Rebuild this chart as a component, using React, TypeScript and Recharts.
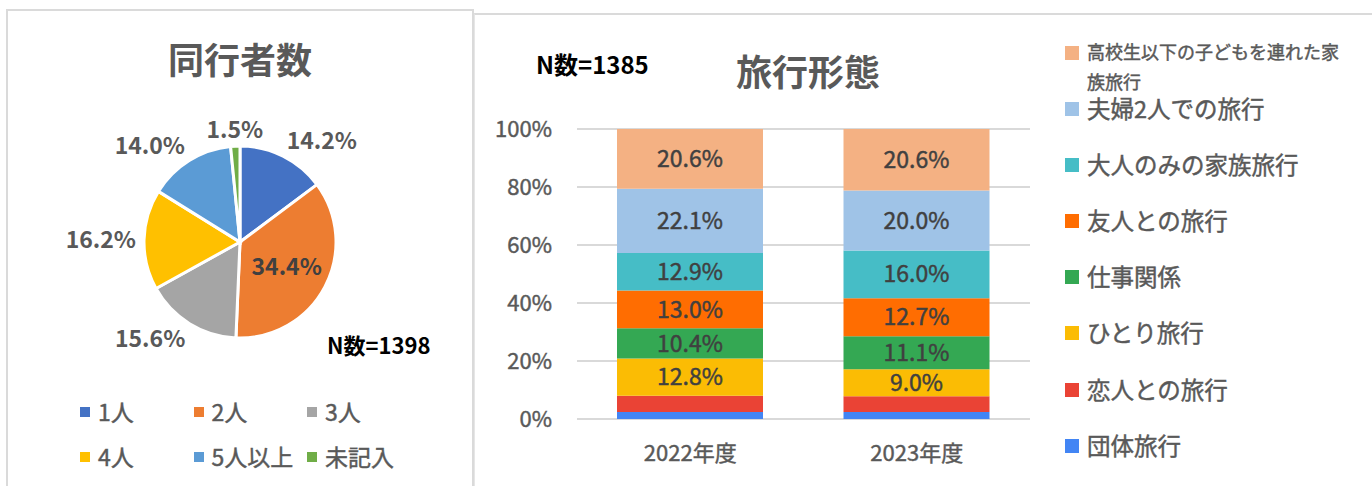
import { PieChart, Pie, Cell, Legend, BarChart, Bar, XAxis, YAxis, CartesianGrid, LabelList } from "recharts";

const FONT = '"Noto Sans CJK JP", "Noto Sans", sans-serif';
const TEXT = "#595959";
const RAD = Math.PI / 180;

// 同行者数
const companionLabels = ["1人", "2人", "3人", "4人", "5人以上", "未記入"];
const companionShares = [14.2, 34.4, 15.6, 16.2, 14.0, 1.5];
const companionColors = ["#4472C4", "#ED7D31", "#A5A5A5", "#FFC000", "#5B9BD5", "#70AD47"];

// 旅行形態 (stack order, bottom -> top)
const years = ["2022年度", "2023年度"];
const styleNames = [
  "団体旅行",
  "恋人との旅行",
  "ひとり旅行",
  "仕事関係",
  "友人との旅行",
  "大人のみの家族旅行",
  "夫婦2人での旅行",
  "高校生以下の子どもを連れた家族旅行",
];
const shares2022 = [2.4, 5.6, 12.8, 10.4, 13.0, 12.9, 22.1, 20.6];
const shares2023 = [2.3, 5.3, 9.0, 11.1, 12.7, 16.0, 20.0, 20.6];
const styleColors = ["#4285F4", "#EA4335", "#FBBC04", "#34A853", "#FF6D01", "#46BDC6", "#9FC3E7", "#F4B183"];
const labelled = [false, false, true, true, true, true, true, true];
const yTicks = [0, 0.2, 0.4, 0.6, 0.8, 1];

const pieData = companionLabels.map((name, i) => ({ name, value: companionShares[i] }));

const barRows = years.map((year, i) => {
  const vals = i === 0 ? shares2022 : shares2023;
  const row: Record<string, string | number> = { year };
  styleNames.forEach((_, k) => (row[`s${k}`] = vals[k]));
  return row;
});

// medium-weight look (the font only ships regular/bold)
const MEDIUM_HTML: React.CSSProperties = { WebkitTextStroke: `0.45px ${TEXT}` };

function pieLabel(p: any) {
  const fs = 23;
  const inside = p.percent > 0.3;
  const cos = Math.cos(-p.midAngle * RAD);
  const sin = Math.sin(-p.midAngle * RAD);
  const r = inside ? p.outerRadius * 0.55 : p.outerRadius + 8;
  const x = p.cx + r * cos;
  const y = p.cy + r * sin;
  const anchor = inside || Math.abs(cos) < 0.2 ? "middle" : cos > 0 ? "start" : "end";
  const dy = inside || Math.abs(sin) < 0.2 ? fs * 0.36 : sin > 0 ? fs * 0.72 : 0;
  return (
    <text
      x={x}
      y={y + dy}
      textAnchor={anchor}
      fill={inside ? "#404040" : TEXT}
      fontSize={fs}
      fontWeight={700}
      fontFamily={FONT}
    >
      {`${Number(p.value).toFixed(1)}%`}
    </text>
  );
}

function PieLegend() {
  return (
    <div style={{ display: "grid", gridTemplateColumns: "repeat(3, 113.5px)", gridAutoRows: "45px", fontFamily: FONT }}>
      {companionLabels.map((name, i) => (
        <div key={name} style={{ display: "flex", alignItems: "center" }}>
          <span style={{ width: 10, height: 10, background: companionColors[i], marginRight: 8 }} />
          <span style={{ fontSize: 23, color: TEXT, lineHeight: 1, ...MEDIUM_HTML }}>{name}</span>
        </div>
      ))}
    </div>
  );
}

function StyleLegend() {
  const order = styleNames.map((_, k) => k).reverse();
  return (
    <div style={{ fontFamily: FONT }}>
      {order.map((k, i) => {
        const first = i === 0;
        const lh = first ? 30 : 22;
        return (
          <div key={k} style={{ position: "relative", height: 56.1 }}>
            <span style={{ position: "absolute", left: 0, top: 21, width: 14, height: 14, background: styleColors[k] }} />
            <span
              style={{
                position: "absolute",
                left: 22,
                top: (first ? 26 : 27) - lh / 2,
                width: first ? 262 : 300,
                fontSize: first ? 18 : 23.5,
                lineHeight: `${lh}px`,
                color: TEXT,
                textAlign: "left",
                ...MEDIUM_HTML,
              }}
            >
              {styleNames[k]}
            </span>
          </div>
        );
      })}
    </div>
  );
}

const abs = (left: number, top: number, extra: React.CSSProperties = {}): React.CSSProperties => ({
  position: "absolute",
  left,
  top,
  ...extra,
});

export default function App() {
  const tick = { fill: TEXT, fontSize: 22, fontFamily: FONT, stroke: TEXT, strokeWidth: 0.45 };
  return (
    <div style={abs(0, 0, { width: 1372, height: 486, overflow: "hidden", background: "#fff", fontFamily: FONT })}>
      {/* panel frames */}
      <div style={abs(6, 9, { width: 464, height: 490, border: "2px solid #dadada", borderBottom: "none" })} />
      <div style={abs(474, 13, { width: 900, height: 490, borderTop: "2px solid #dadada", borderLeft: "1px solid #e6e6e6" })} />

      {/* 同行者数 */}
      <div style={abs(0, 0)}>
        <PieChart width={480} height={486} margin={{ top: 0, right: 0, bottom: 0, left: 0 }}>
          <Pie
            data={pieData}
            dataKey="value"
            nameKey="name"
            cx={240}
            cy={242}
            outerRadius={96}
            startAngle={90}
            endAngle={-270}
            stroke="#fff"
            strokeWidth={3}
            label={pieLabel}
            labelLine={false}
            isAnimationActive={false}
          >
            {pieData.map((d, i) => (
              <Cell key={d.name} fill={companionColors[i]} />
            ))}
          </Pie>
          <Legend
            layout="horizontal"
            verticalAlign="middle"
            content={<PieLegend />}
            wrapperStyle={{ position: "absolute", left: 80, top: 389, width: 345 }}
          />
        </PieChart>
      </div>
      <div style={abs(0, 40, { width: 480, textAlign: "center", fontSize: 36, lineHeight: "36px", fontWeight: 700, color: TEXT })}>
        同行者数
      </div>
      <div style={abs(327, 333, { fontSize: 22, lineHeight: "22px", fontWeight: 700, color: "#000" })}>N数=1398</div>

      {/* 旅行形態 */}
      <div style={abs(480, 0)}>
        <BarChart
          width={892}
          height={486}
          data={barRows}
          stackOffset="expand"
          barSize={146}
          margin={{ top: 129, right: 342, bottom: 30, left: 0 }}
        >
          <CartesianGrid vertical={false} stroke="#d9d9d9" strokeWidth={2} />
          <XAxis
            dataKey="year"
            axisLine={false}
            tickLine={false}
            tickSize={0}
            tickMargin={26}
            height={37}
            tick={tick}
          />
          <YAxis
            type="number"
            domain={[0, 1]}
            ticks={yTicks}
            tickFormatter={(v: number) => `${Math.round(v * 100)}%`}
            axisLine={false}
            tickLine={false}
            tickSize={0}
            tickMargin={25}
            width={97}
            tick={tick}
          />
          {styleNames.map((name, k) => (
            <Bar key={name} dataKey={`s${k}`} name={name} stackId="a" fill={styleColors[k]} isAnimationActive={false}>
              {labelled[k] && (
                <LabelList
                  dataKey={`s${k}`}
                  position="center"
                  formatter={(v: any) => `${Number(v).toFixed(1)}%`}
                  fill="#404040"
                  stroke="#404040"
                  strokeWidth={0.45}
                  fontSize={23}
                  fontFamily={FONT}
                />
              )}
            </Bar>
          ))}
          <Legend
            layout="horizontal"
            verticalAlign="middle"
            content={<StyleLegend />}
            wrapperStyle={{ position: "absolute", left: 585, top: 25, width: 300 }}
          />
        </BarChart>
      </div>
      <div style={abs(480, 52, { width: 656, textAlign: "center", fontSize: 36, lineHeight: "36px", fontWeight: 700, color: TEXT })}>
        旅行形態
      </div>
      <div style={abs(536, 52, { fontSize: 24, lineHeight: "24px", fontWeight: 700, color: "#000" })}>N数=1385</div>
    </div>
  );
}
